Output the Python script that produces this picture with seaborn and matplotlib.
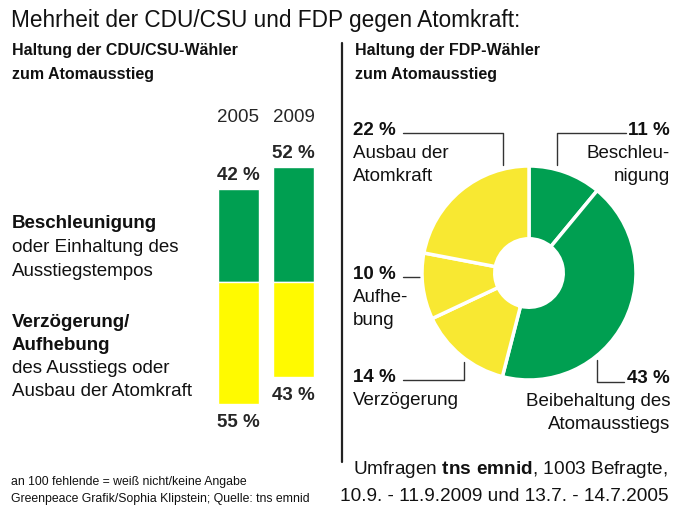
import matplotlib
matplotlib.use('Agg')
import matplotlib.pyplot as plt
import seaborn as sns
import pandas as pd

# CDU/CSU voters, 2005 vs 2009
years = ['2005', '2009']
beschleunigung = [42, 52]   # green, drawn upward
verzoegerung = [55, 43]     # yellow, drawn downward

# FDP voters, clockwise from 12 o'clock
fdp_values = [11, 43, 14, 10, 22]
fdp_groups = ['Beschleunigung', 'Beibehaltung', 'Verzögerung', 'Aufhebung', 'Ausbau']

GREEN = '#009f51'
YELLOW = '#fffa00'
PIE_YELLOW = '#f8e832'
fdp_colors = [GREEN, GREEN, PIE_YELLOW, PIE_YELLOW, PIE_YELLOW]

sns.set_theme(style='white')
plt.rcParams['font.family'] = ['Liberation Sans', 'DejaVu Sans']
plt.rcParams['mathtext.fontset'] = 'custom'
plt.rcParams['mathtext.rm'] = 'Liberation Sans'
plt.rcParams['mathtext.bf'] = 'Liberation Sans:bold'

W, H = 675, 511
fig = plt.figure(figsize=(W / 100, H / 100), dpi=100)
fig.patch.set_facecolor('white')


def px_axes(left, top, right, bottom):
    return fig.add_axes([left / W, 1 - bottom / H, (right - left) / W, (bottom - top) / H])


# --- diverging bars ---
axb = px_axes(211, 149.4, 321, 414.6)
df = pd.DataFrame({'Jahr': years,
                   'gruen': beschleunigung,
                   'gelb': [-v for v in verzoegerung]})
sns.barplot(data=df, x='Jahr', y='gruen', color=GREEN, saturation=1,
            width=0.745, ax=axb)
sns.barplot(data=df, x='Jahr', y='gelb', color=YELLOW, saturation=1,
            width=0.745, ax=axb)
axb.set_xlim(-0.5, 1.5)
axb.set_ylim(-60, 60)
axb.axis('off')
for i, (g, y) in enumerate(zip(beschleunigung, verzoegerung)):
    axb.text(i, g + 4, f'{g} %', ha='center', va='baseline',
             fontsize=13.5, fontweight='bold')
    axb.text(i, -y - 10.6, f'{y} %', ha='center', va='baseline',
             fontsize=13.5, fontweight='bold')
    axb.text(i, 72.4, years[i], ha='center', va='baseline', fontsize=13.5)

# --- donut ---
axp = px_axes(422, 166, 636, 380)
axp.pie(fdp_values, colors=fdp_colors, startangle=90, counterclock=False,
        wedgeprops=dict(width=0.68, edgecolor='white', linewidth=2.5))
axp.set_xlim(-1, 1)
axp.set_ylim(-1, 1)
axp.axis('off')

# --- overlay for text and leader lines (pixel coordinates) ---
ov = fig.add_axes([0, 0, 1, 1], zorder=-1)
ov.set_xlim(0, W)
ov.set_ylim(H, 0)
ov.axis('off')


def txt(x, y, s, size=13.5, weight='normal', ha='left'):
    ov.text(x, y, s, fontsize=size, fontweight=weight, ha=ha, va='baseline',
            color='#111111')


txt(11, 27, 'Mehrheit der CDU/CSU und FDP gegen Atomkraft:', size=16.3)
txt(12, 55, 'Haltung der CDU/CSU-Wähler', size=11.5, weight='bold')
txt(12, 79, 'zum Atomausstieg', size=11.5, weight='bold')
txt(355, 55, 'Haltung der FDP-Wähler', size=11.5, weight='bold')
txt(355, 79, 'zum Atomausstieg', size=11.5, weight='bold')

ov.plot([342, 342], [43, 462], color='#222222', lw=1.6)

txt(12, 228, 'Beschleunigung', weight='bold')
txt(12, 252, 'oder Einhaltung des')
txt(12, 276, 'Ausstiegstempos')
txt(12, 327, 'Verzögerung/', weight='bold')
txt(12, 350, 'Aufhebung', weight='bold')
txt(12, 373, 'des Ausstiegs oder')
txt(12, 396, 'Ausbau der Atomkraft')

# pie labels
txt(353, 135, '22 %', weight='bold')
txt(353, 158, 'Ausbau der')
txt(353, 181, 'Atomkraft')
txt(670, 135, '11 %', weight='bold', ha='right')
txt(670, 158, 'Beschleu-', ha='right')
txt(670, 181, 'nigung', ha='right')
txt(353, 279, '10 %', weight='bold')
txt(353, 302, 'Aufhe-')
txt(353, 325, 'bung')
txt(353, 382, '14 %', weight='bold')
txt(353, 405, 'Verzögerung')
txt(670, 383, '43 %', weight='bold', ha='right')
txt(670, 406, 'Beibehaltung des', ha='right')
txt(670, 429, 'Atomausstiegs', ha='right')

lk = dict(color='#333333', lw=1)
ov.plot([403, 503, 503], [133, 133, 165], **lk)
ov.plot([626, 557, 557], [133, 133, 165], **lk)
ov.plot([403, 420], [277, 277], **lk)
ov.plot([403, 464, 464], [380, 380, 362], **lk)
ov.plot([597, 597, 624], [360, 382, 382], **lk)

# footer
txt(11, 485, 'an 100 fehlende = weiß nicht/keine Angabe', size=8.8)
txt(11, 502, 'Greenpeace Grafik/Sophia Klipstein; Quelle: tns emnid', size=8.8)
txt(668, 474, r'Umfragen $\mathbf{tns\ emnid}$, 1003 Befragte,', size=13.7, ha='right')
txt(668, 501, '10.9. - 11.9.2009 und 13.7. - 14.7.2005', size=13.7, ha='right')

fig.savefig('out.png', dpi=100, facecolor='white')
